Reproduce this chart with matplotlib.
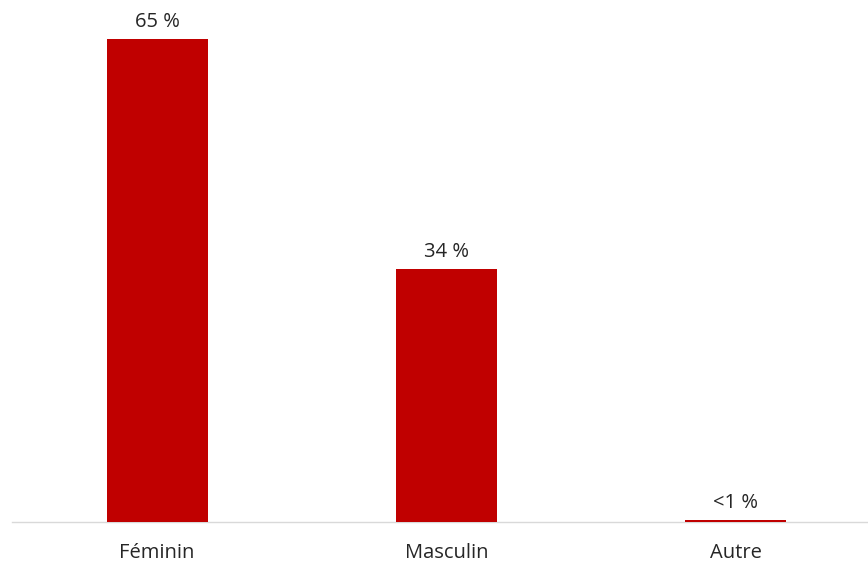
import matplotlib

matplotlib.use("Agg")
import matplotlib.pyplot as plt

categories = ["Féminin", "Masculin", "Autre"]
values = [65, 34, 0.25]
labels = ["65 %", "34 %", "<1 %"]

plt.rcParams["font.family"] = ["Open Sans", "DejaVu Sans"]

fig = plt.figure(figsize=(8.68, 5.67), dpi=100)
# axes in figure pixels: left 12, right 868, bottom 522 from top, top 0
ax = fig.add_axes([12 / 868, (567 - 522) / 567, 856 / 868, 522 / 567])

x = list(range(len(categories)))
ax.bar(x, values, width=0.35, color="#C00000", zorder=3)
for xi, v, lab in zip(x, values, labels):
    ax.annotate(lab, (xi, v), xytext=(0, 5), textcoords="offset points",
                ha="center", va="bottom", fontsize=14.5, color="#262626")

ax.set_xlim(-0.5 - 0.5 / 288, 2.457)
ax.set_ylim(0, 70.25)
ax.set_xticks(x)
ax.set_xticklabels(categories, fontsize=14.5, color="#262626")
ax.tick_params(axis="x", length=0, pad=15)
ax.set_yticks([])
for s in ["top", "right", "left"]:
    ax.spines[s].set_visible(False)
ax.spines["bottom"].set_color("#D9D9D9")
ax.spines["bottom"].set_linewidth(1)

fig.savefig("out.png", dpi=100)
